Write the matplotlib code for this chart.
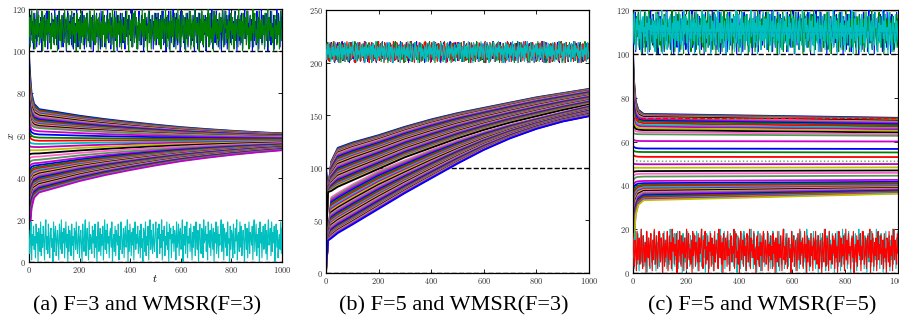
import numpy as np
import matplotlib
matplotlib.use('Agg')
import matplotlib.pyplot as plt
from matplotlib.ticker import FuncFormatter

plt.rcParams['mathtext.fontset'] = 'cm'
plt.rcParams['font.family'] = ['DejaVu Serif']

# ---------------- noise sequences (malicious nodes), values 0..20 ----------------
N1 = [12,3,17,8,19,5,14,1,10,18,6,15,2,11,19,7,13,4,16,9,0,18,12,5,17,3,14,8,19,1,11,16,6,13,2,18,9,15,4,12,20,7,10,3,17,14,1,19,8,11,5,16,13,2,18,6,9,15,0,12,19,4,14,7,17,10,3,16,11,1,18,8,13,5,20,9,2,15,12,6,17,4,11,19,7,14,1,16,10,3,18,13,5,8,19,2,12,15,6,17,0,11,14,9,4,18,7,13,3,16,10,1,19,12,5,15,8,17,2,11,14,6,20,9,4,13,18,1,10,16,7,3,12,19,5,15,8,0,17,11,14,2,18,6,13,9,4,16,12,1,19,7,10,15,3,17,8,14,5,11,20,2,13,18,6,9,16,4,12,1,15,19,7,10,3,17,14,8,0,12,18,5,11,16,2,13,9,19,6,15,4,10,17,1,14,8,12,18,3,16]
N2 = [7,16,2,13,19,9,4,18,11,1,15,8,20,5,12,17,3,10,14,6,19,0,13,16,8,2,18,11,5,15,9,19,4,12,1,17,7,14,10,3,18,6,16,13,0,11,19,8,5,15,2,17,12,9,4,20,14,7,1,16,10,18,3,13,6,11,19,2,15,8,17,4,12,0,18,9,14,5,16,1,11,19,7,13,3,17,10,6,15,2,18,12,8,4,19,14,1,16,9,5,13,20,3,11,17,7,15,0,12,18,6,10,14,2,19,8,16,4,13,1,17,11,5,15,9,18,3,12,7,20,14,0,10,16,6,19,2,13,8,17,11,4,15,1,18,9,12,5,16,3,14,19,7,10,0,17,13,6,15,2,11,18,8,4,19,12,16,1,9,14,5,17,3,13,10,20,7,15,2,18,11,6,12,0,16,19,4,14,8,1,17,13,9,5,18,3,15,11,6]
N3 = [15,4,10,19,1,13,8,17,6,12,2,18,9,14,0,16,11,5,19,3,13,7,17,10,1,15,20,6,12,4,18,9,2,14,16,7,11,0,19,5,13,17,3,10,15,8,1,18,12,6,20,4,14,9,16,2,11,19,7,13,0,17,5,15,10,3,18,8,12,1,16,14,6,19,9,4,13,17,2,11,15,7,0,18,10,5,14,20,3,12,16,8,1,19,6,13,11,4,17,9,15,2,18,7,12,0,14,19,5,10,16,3,13,8,17,1,11,20,6,15,4,18,9,12,2,14,16,7,19,0,10,13,5,17,3,15,11,8,18,1,12,6,19,14,4,9,16,2,13,17,7,10,20,0,15,5,18,11,3,14,8,16,1,12,19,6,13,9,17,4,10,15,2,18,7,11,0,16,14,5,19,3,12,8,17,1,13,20,6,15,10,4,18,9]
N4 = [10,18,5,14,2,17,8,12,19,3,15,7,11,0,16,13,6,19,1,9,17,4,14,12,20,2,8,16,5,18,11,3,15,9,13,0,19,7,10,17,4,12,1,16,14,6,18,2,11,19,8,15,3,13,5,17,9,0,20,12,7,16,1,14,10,18,4,11,19,6,13,2,15,8,17,0,12,9,18,5,16,3,14,11,20,7,1,13,17,4,10,19,6,15,2,12,18,8,14,0,16,11,5,19,3,13,9,17,1,15,7,20,10,4,18,12,6,14,2,16,19,8,11,0,13,17,5,15,3,10,18,9,1,14,12,20,6,16,4,11,19,7,13,2,17,8,15,0,12,18,5,10,14,3,19,9,16,1,13,11,6,20,4,15,8,17,2,12,18,7,10,0,14,16,5,19,3,11,13,9,17,1,15,6,12,20,4,18,8,14,2,16,10,19]
N5 = [5,14,19,9,2,16,11,18,4,13,7,20,1,15,10,17,3,12,8,19,6,14,0,18,11,16,2,13,9,17,5,15,12,1,19,7,10,18,3,14,16,6,11,20,0,13,8,17,4,15,19,2,12,9,16,5,18,10,1,14,7,17,13,3,19,11,6,15,0,12,18,8,4,16,14,2,20,9,11,17,5,13,1,19,10,7,15,3,18,12,6,16,0,14,9,19,4,11,17,2,13,8,15,20,5,10,18,1,16,12,7,14,3,19,9,11,0,17,6,15,13,2,18,8,4,16,10,20,1,12,14,5,19,7,17,3,11,15,9,0,18,13,6,16,2,10,19,4,14,12,8,17,1,15,20,5,11,18,3,13,7,16,0,19,9,14,2,12,17,6,10,18,4,15,1,13,20,8,11,16,3,19,5,14,9,17,0,12,18,7,15,2,10,13,6,19,4,16]
N6 = [18,9,3,15,11,1,19,6,13,16,4,10,20,8,2,17,12,5,14,0,19,11,7,16,3,13,18,9,1,15,6,20,12,4,17,10,2,14,19,8,5,16,11,0,18,13,3,15,7,12,19,1,9,17,6,14,2,20,10,16,4,13,8,18,0,11,15,5,19,12,3,17,9,14,1,16,7,10,20,2,13,18,6,11,4,15,0,19,8,12,17,3,14,10,5,18,1,16,9,13,20,7,2,15,11,19,4,12,6,17,0,14,10,18,3,16,8,13,1,19,5,11,15,9,2,20,12,7,17,4,14,0,18,10,6,16,13,3,19,8,11,1,15,17,5,12,9,20,2,14,18,7,10,4,16,0,13,19,6,11,15,3,17,8,12,1,18,14,5,9,20,2,16,10,13,7,19,4,11,0,15,17,6,12,3,18,8,14,1,16,19,5,10]

# ---------------- panel (a): normal nodes ----------------
TA = [0, 5, 10, 20, 40, 100, 200, 300, 400, 500, 600, 700, 800, 900, 1000]
QA = [0, .4, .7, .9, 1, 1, 1, 1, 1, 1, 1, 1, 1, 1, 1]          # approach to plateau
PA = [0, 0, 0, 0, 0, .1, .27, .41, .53, .64, .74, .82, .89, .95, 1]  # drift to final
a_start = [98, 95, 92, 90, 88, 86, 84, 82, 80, 78, 77, 76, 75, 74, 73, 72, 71, 70,
           68, 66, 64, 62, 60, 57, 55, 53, 51, 49, 47,
           45, 43, 41, 39, 37, 35, 33, 31, 30, 29, 28, 27, 26, 25, 24, 23, 22, 21, 20, 19, 18, 16, 14, 12, 10, 8]
a_plateau = [72.5, 72, 71.5, 71, 70.5, 70, 69.5, 69, 68.5, 68, 67.5, 67, 66.5, 66, 65.5, 65, 64.5, 64,
             63.5, 62, 60.5, 59, 57.5, 56, 54.5, 53, 51.5, 50, 48.5,
             47, 46, 45.2, 44.5, 43.8, 43.2, 42.6, 42, 41.5, 41, 40.5, 40, 39.5, 39, 38.5, 38, 37.5, 37, 36.5, 36, 35.5, 35, 34.5, 34, 33.5, 33]
a_final = [61, 60.9, 60.8, 60.7, 60.6, 60.5, 60.4, 60.3, 60.2, 60.1, 60, 59.9, 59.8, 59.7, 59.6, 59.5, 59.4, 59.3,
           59.1, 58.8, 58.5, 58.2, 57.9, 57.6, 57.3, 57.0, 56.7, 56.4, 56.1,
           55.9, 55.7, 55.5, 55.3, 55.2, 55.1, 55.0, 54.9, 54.8, 54.7, 54.6, 54.5, 54.4, 54.3, 54.2, 54.1, 54.0, 53.9, 53.8, 53.7, 53.6, 53.5, 53.4, 53.3, 53.15, 53.0]

# ---------------- panel (b): normal nodes (two groups, envelopes + positions) ----------------
TB = [8, 20, 45, 100, 200, 300, 400, 500, 600, 700, 800, 900, 1000]
b_up_top = [79, 106, 119, 124, 131, 139, 146, 152, 157, 162, 167, 171, 175]
b_up_bot = [77, 78, 82, 88, 99, 110, 119, 128, 136, 143, 149, 155, 160]
b_lo_top = [36, 72, 76, 84, 97, 107, 117, 126, 134, 141, 147, 153, 159]
b_lo_bot = [31, 33, 38, 46, 61, 76, 90, 104, 117, 128, 137, 144, 149]
b_up_pos = [1.0, .98, .96, .94, .92, .90, .88, .86, .83, .80, .77, .74, .71, .68, .65, .62, .59, .56, .53, .50, .47, .44, .41, .38, .35, .32, .29, .26, .23, .20, .17, .14, .11, .08, .05, .03, 0.0]
b_lo_pos = [1.0, .96, .92, .88, .84, .80, .76, .72, .68, .64, .60, .57, .54, .51, .48, .45, .42, .39, .36, .33, .30, .27, .24, .21, .18, .16, .14, .12, .10, .08, .06, .04, .02, 0.0]
b_up_start = [100, 96, 93, 90, 88, 86, 84, 82, 80, 79, 78, 76, 75, 74, 72, 70, 68, 66, 64, 62, 60, 58, 56, 54, 52, 50, 48, 46, 44, 42, 40, 38, 36, 34, 32, 30, 28]
b_lo_start = [27, 26, 25, 24, 23, 22, 21, 20, 19, 18, 17, 16, 15, 14, 13, 12, 11, 10, 9, 8, 7, 6, 5, 4, 3, 2, 1, 0, 1, 2, 3, 4, 5, 6]

# ---------------- panel (c): normal nodes ----------------
TC = [0, 4, 10, 20, 40, 1000]
QC = [0, .45, .78, .93, 1, 1]
PC = [0, 0, 0, 0, 0, 1]
c_start = [100, 98, 96, 94, 92, 90, 88, 86, 84, 82, 80, 78, 76, 74, 72, 70, 68, 66, 64, 61, 58, 56, 54, 52, 50, 48, 46, 44, 42, 40, 38, 35, 32, 29, 26, 23, 20, 18, 16, 14, 12, 10, 8, 6, 4, 2]
c_plateau = [72.6, 72.4, 72.2, 72, 71.8, 71.5, 71.2, 70.8, 70.4, 70, 69.5, 69, 68.3, 67.5, 66.8, 66, 65.2, 64.3, 63.3, 60.2, 56.8, 55.2, 53, 51, 49.6, 48, 46.5, 45.3, 44, 42, 41, 40.3, 39.7, 39.1, 38.5, 38, 37.5, 37, 36.5, 36, 35.5, 35, 34.5, 34, 33.6, 33.2]
c_final = [70.8, 70.6, 70.4, 70.2, 70, 69.8, 69.5, 69.1, 68.7, 68.3, 67.9, 67.4, 66.8, 66.1, 65.5, 64.8, 64.1, 63.3, 62.6, 60, 56.6, 55, 52.9, 51, 49.7, 48.2, 46.8, 45.7, 44.4, 42.5, 41.6, 41, 40.5, 40, 39.6, 39.2, 38.8, 38.5, 38.2, 37.9, 37.6, 37.3, 37, 36.7, 36.4, 36.2]
c_dotted_index = 23

# ticks / labels
x_ticks = [0, 200, 400, 600, 800, 1000]
y_ticks_ac = [0, 20, 40, 60, 80, 100, 120]
y_ticks_b = [0, 50, 100, 150, 200, 250]
captions = ['(a) F=3 and WMSR(F=3)', '(b) F=5 and WMSR(F=3)', '(c) F=5 and WMSR(F=5)']

PAL = ['b', 'g', 'r', 'c', 'm', 'y', 'k', '#ff66cc', '#559955', '#cc00cc']

W, H = 899, 324
fig = plt.figure(figsize=(W / 100, H / 100), dpi=100)

def box(l, t, r, b):
    return [l / W, 1 - b / H, (r - l) / W, (b - t) / H]

ax_a = fig.add_axes(box(29, 9, 282, 262))
ax_b = fig.add_axes(box(326, 10, 589, 273))
ax_c = fig.add_axes(box(633, 10, 898, 273))

fmt = FuncFormatter(lambda v, p: r'$%d$' % int(round(v)))

def style(ax, yt, ymax):
    ax.set_xlim(0, 1000)
    ax.set_ylim(0, ymax)
    ax.set_xticks(x_ticks)
    ax.set_yticks(yt)
    ax.xaxis.set_major_formatter(fmt)
    ax.yaxis.set_major_formatter(fmt)
    ax.tick_params(direction='in', top=True, right=True, length=3, width=0.6,
                   labelsize=6, pad=2, colors='black', labelcolor='#333333')
    for s in ax.spines.values():
        s.set_linewidth(0.9)

def noise(ax, seqs, base, color, z):
    vals = np.concatenate([np.asarray(s, float) for s in seqs])
    t = np.linspace(0, 1000, len(vals))
    ax.plot(t, base + vals, color=color, lw=0.8, zorder=z)

LW = 1.3

# ---- panel a ----
ax = ax_a
for y in (0, 100, 120):
    ax.plot([0, 1000], [y, y], 'k--', lw=1, zorder=1)
for i, (s, p, f) in enumerate(zip(a_start, a_plateau, a_final)):
    v = [s + (p - s) * q + (f - p) * pp for q, pp in zip(QA, PA)]
    ax.plot(TA, v, color=PAL[i % len(PAL)], lw=LW, zorder=2)
noise(ax, [N1, N4], 100, 'b', 3)
noise(ax, [N2, N6], 100, 'g', 4)
noise(ax, [N3, N5], 0, 'c', 3)
style(ax, y_ticks_ac, 120)

# ---- panel b ----
ax = ax_b
for y in (0, 100):
    ax.plot([0, 1000], [y, y], 'k--', lw=1, zorder=1)
k = 0
for top, bot, pos, starts in ((b_up_top, b_up_bot, b_up_pos, b_up_start),
                              (b_lo_top, b_lo_bot, b_lo_pos, b_lo_start)):
    for f, s in zip(pos, starts):
        v = [s] + [lo + f * (hi - lo) for hi, lo in zip(top, bot)]
        ax.plot([0] + TB, v, color=PAL[k % len(PAL)], lw=LW, zorder=2)
        k += 1
noise(ax, [N4, N2], 200, 'b', 3)
noise(ax, [N5, N3], 200, 'g', 3)
noise(ax, [N6, N5], 200, 'r', 3)
noise(ax, [N1, N6], 200, 'c', 4)
style(ax, y_ticks_b, 250)

# ---- panel c ----
ax = ax_c
for y in (0, 100, 120):
    ax.plot([0, 1000], [y, y], 'k--', lw=1, zorder=1)
for i, (s, p, f) in enumerate(zip(c_start, c_plateau, c_final)):
    v = [s + (p - s) * q + (f - p) * pp for q, pp in zip(QC, PC)]
    if i == c_dotted_index:
        ax.plot(TC, v, color='#55aa55', lw=1.0, ls=':', zorder=2)
    else:
        ax.plot(TC, v, color=PAL[i % len(PAL)], lw=LW, zorder=2)
ax.plot([0, 1000], [c_final[0], c_final[0]], color='r', lw=1.0, ls='--', zorder=2)
noise(ax, [N3, N5], 100, 'b', 3)
noise(ax, [N4, N1], 100, 'g', 3)
noise(ax, [N5, N2], 100, 'c', 4)
ax.plot([0, 1000], [110, 110], color='#2288cc', lw=1.0, ls=':', zorder=5)
noise(ax, [N2, N4], 0, 'c', 3)
noise(ax, [N6, N3], 0, 'r', 4)
style(ax, y_ticks_ac, 120)

# axis labels for panel a
fig.text(11 / W, 1 - 136 / H, r'$x$', fontsize=8, ha='center', va='center', rotation=90)
fig.text(155 / W, 1 - 278 / H, r'$t$', fontsize=8, ha='center', va='center')

# captions
for cx, txt in zip((147.5, 454, 762), captions):
    fig.text(cx / W, 1 - 306 / H, txt, fontsize=16, family='Liberation Serif',
             ha='center', va='center')

fig.savefig('out.png', dpi=100)
